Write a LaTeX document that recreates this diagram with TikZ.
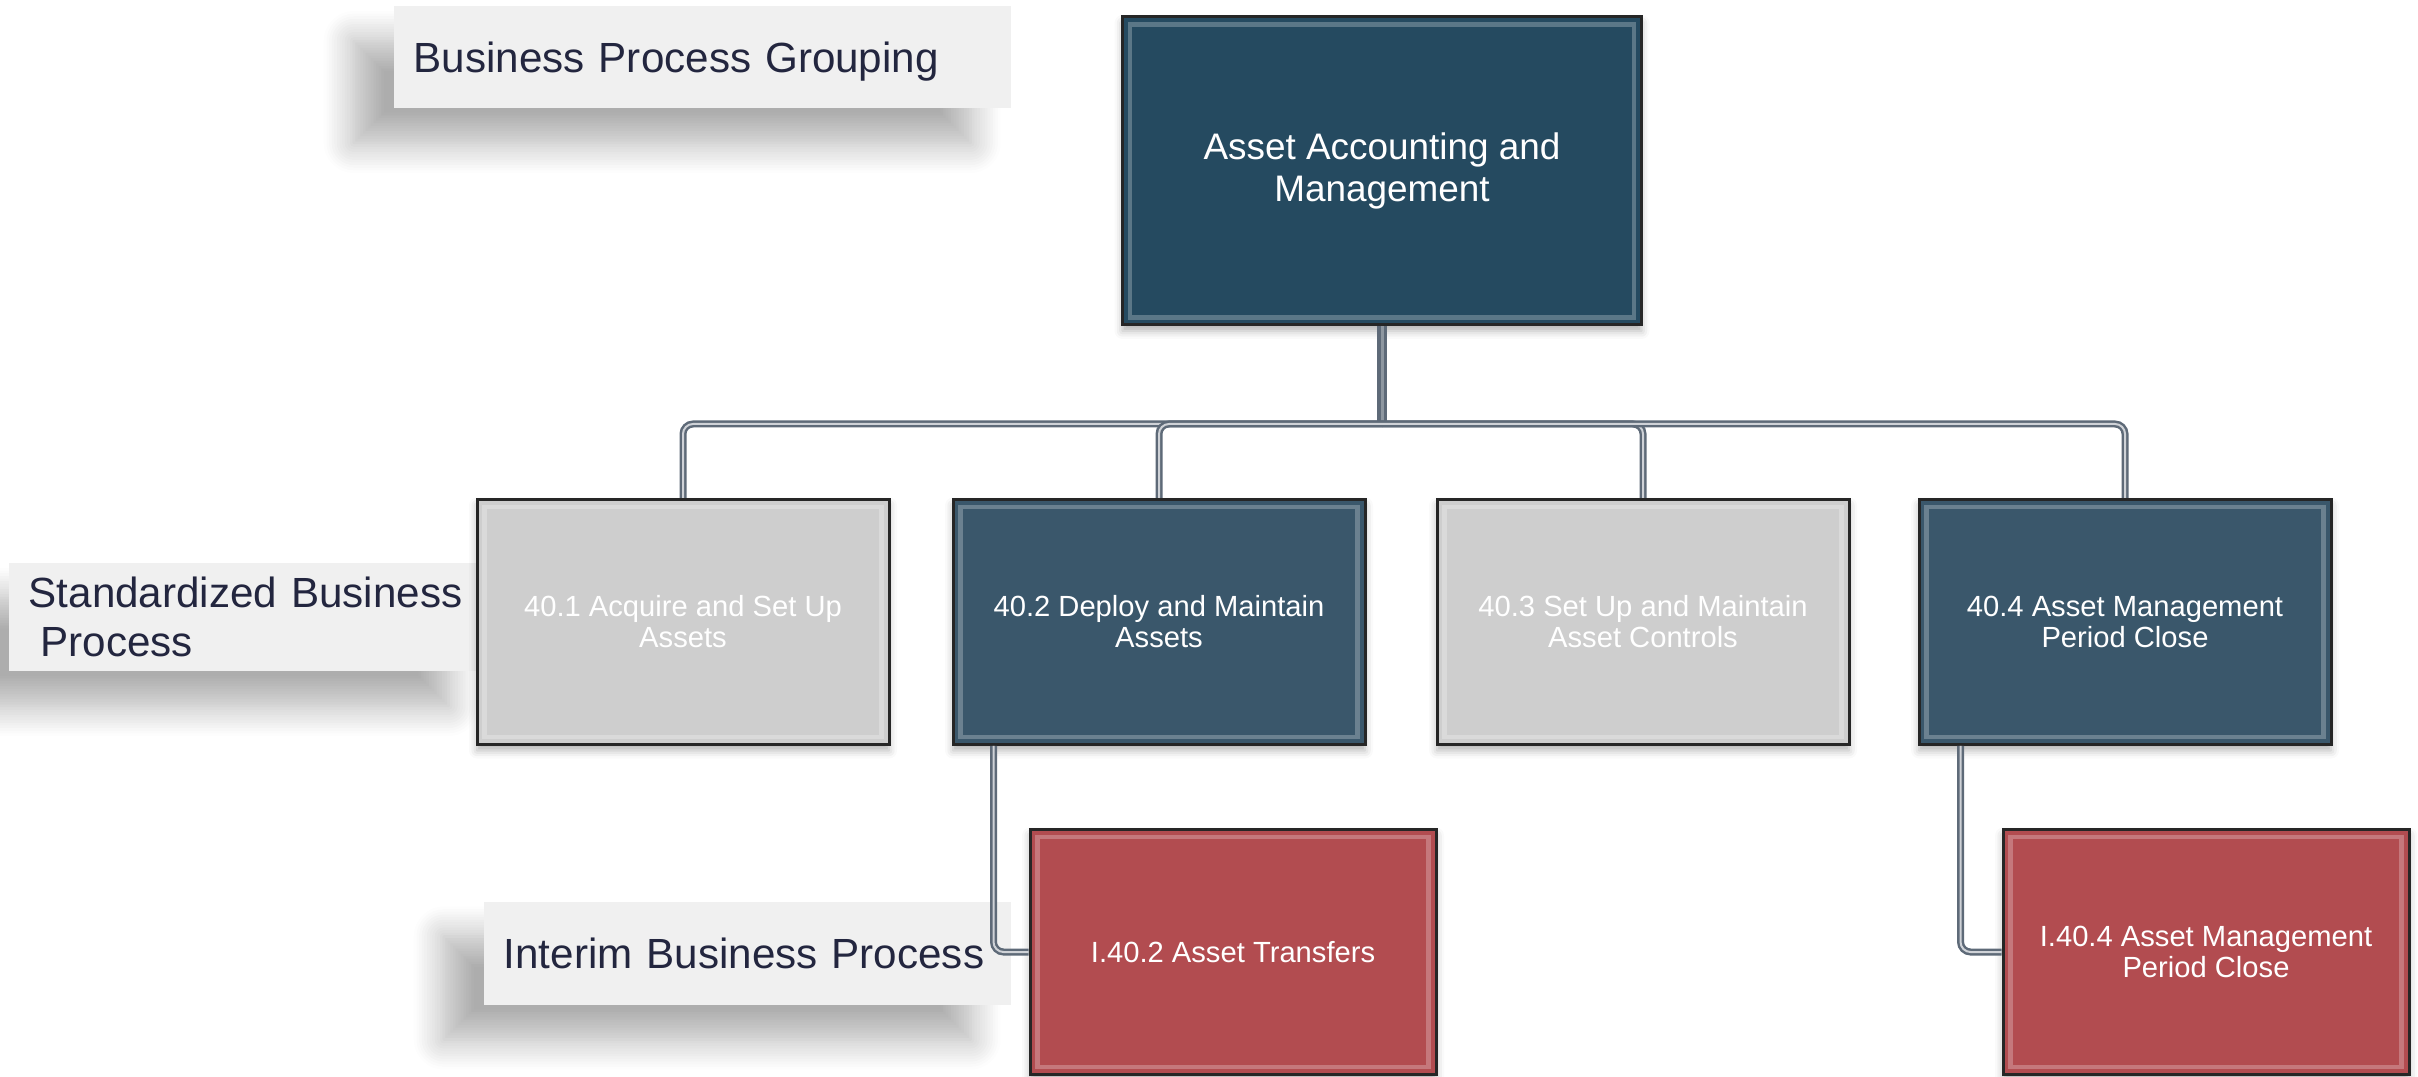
\documentclass[tikz,border=0pt]{standalone}
\usepackage{fontspec}
\setmainfont{Liberation Sans}
\usetikzlibrary{shadows.blur}

\definecolor{topblue}{HTML}{254A60}
\definecolor{midblue}{HTML}{3A576B}
\definecolor{procgray}{HTML}{CECECE}
\definecolor{interimred}{HTML}{B24C50}
\definecolor{labelbg}{HTML}{F0F0F0}
\definecolor{labeltext}{HTML}{23263F}
\definecolor{linkgray}{HTML}{5E6A78}

\tikzset{
  bevel/.style={path picture={
    \draw[#1, line width=0.45mm, opacity=0.5]
      ([shift={(0.75mm,-0.75mm)}]path picture bounding box.north west) rectangle
      ([shift={(-0.75mm,0.75mm)}]path picture bounding box.south east);}},
  procbox/.style={draw=black!85, line width=0.3mm, fill=#1, text=white,
    minimum width=41.2mm, minimum height=24.5mm, align=center,
    font=\fontsize{8.3}{8.8}\selectfont, bevel=#1!50!white,
    blur shadow={shadow xshift=0mm, shadow yshift=-0.6mm, shadow blur radius=0.8mm, shadow opacity=30}},
  grouplabel/.style={fill=labelbg, text=labeltext, anchor=west,
    font=\fontsize{12}{14}\selectfont, align=left, text width=#1,
    inner xsep=2mm,
    blur shadow={shadow xshift=-4mm, shadow yshift=-3.5mm, shadow blur radius=3mm,
      shadow blur steps=12, shadow opacity=32}},
  link/.style={draw=linkgray, line width=0.25mm, double=linkgray!30!white,
    double distance=0.2mm, rounded corners=1mm},
  trunk/.style={draw=linkgray, line width=0.35mm, double=linkgray!70!white,
    double distance=0.3mm}
}

\begin{document}
\begin{tikzpicture}[x=0.1mm, y=-0.1mm]
  \useasboundingbox (0,0) rectangle (2418,1077);

  \node[grouplabel=57.7mm, minimum height=10.2mm, text depth=0pt] (bpg) at (393,57) {Business Process Grouping};
  \node[grouplabel=44mm, minimum height=10.8mm] (sbp) at (8,617)
    {\hyphenpenalty=10000 Standardized Business\\\hspace*{0.28em}Process};
  \node[grouplabel=48.7mm, minimum height=10.3mm, text depth=0pt] (ibp) at (483,953) {Interim Business Process};

  \node[procbox=topblue, minimum width=51.9mm, minimum height=30.8mm,
    font=\fontsize{10.5}{12.2}\selectfont] (aam) at (1382,171) {Asset Accounting and\\Management};

  \node[procbox=procgray] (aqa) at (683,622) {40.1 Acquire and Set Up\\Assets};
  \node[procbox=midblue] (dma) at (1159,622) {40.2 Deploy and Maintain\\Assets};
  \node[procbox=procgray] (smc) at (1643,622) {40.3 Set Up and Maintain\\Asset Controls};
  \node[procbox=midblue] (pcl) at (2125,622) {40.4 Asset Management\\Period Close};

  \node[procbox=interimred, minimum width=40.6mm] (iat) at (1233,952) {I.40.2 Asset Transfers};
  \node[procbox=interimred, minimum width=40.6mm] (ipc) at (2206,952) {I.40.4 Asset Management\\Period Close};

  \coordinate (bus) at (1382,424);
  \draw[trunk] (aam.south) -- (bus);
  \foreach \c in {aqa,dma,smc,pcl}{
    \draw[link] (bus) -| (\c.north);
  }
  \draw[link] ([xshift=4.2mm]dma.south west) |- (iat.west);
  \draw[link] ([xshift=4.3mm]pcl.south west) |- (ipc.west);
\end{tikzpicture}
\end{document}
